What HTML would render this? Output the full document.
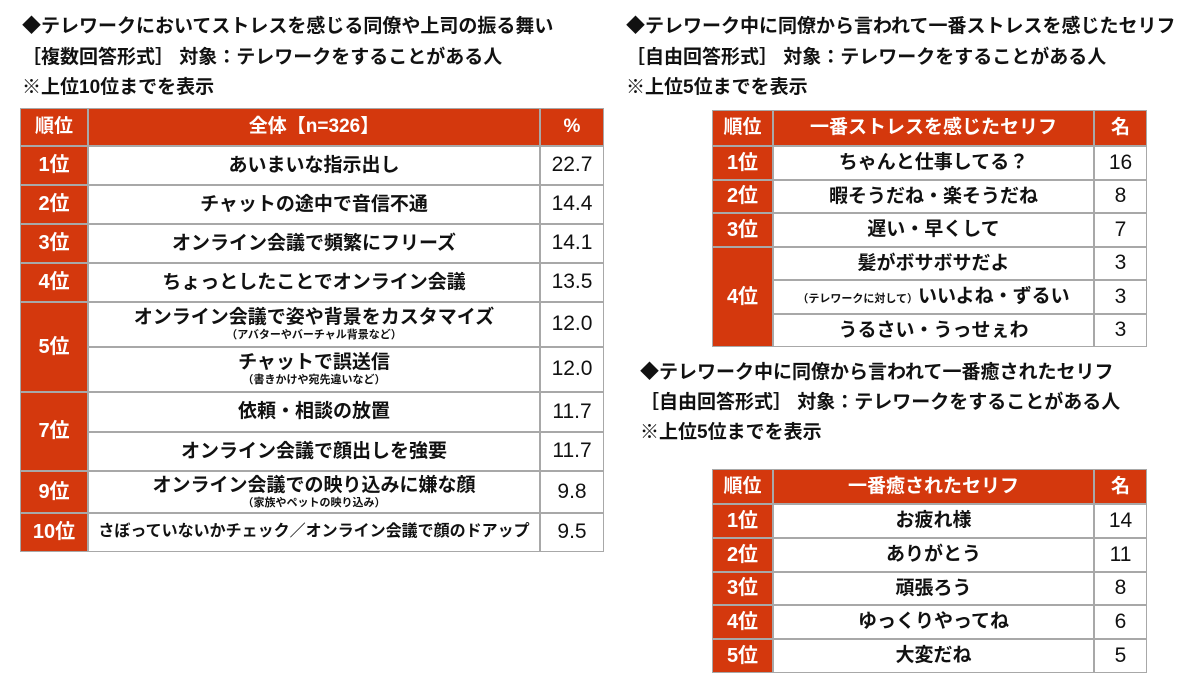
<!DOCTYPE html>
<html><head><meta charset="utf-8">
<style>
body{margin:0;width:1200px;height:695px;background:#fff;position:relative;overflow:hidden;font-family:"Liberation Sans","Noto Sans CJK JP",sans-serif;font-weight:bold;color:#111}
.t{position:absolute;font-size:19px;white-space:nowrap;line-height:22px}
.c{position:absolute;box-sizing:border-box;display:flex;flex-direction:column;align-items:center;justify-content:center;white-space:nowrap;border:1px solid #a8a8a8;line-height:1.15}
.h{background:#d4380d;color:#fff;font-size:19px}
.r{background:#d4380d;color:#fff;font-size:20px}
.b{background:#fff;font-size:19px}
.v{background:#fff;font-size:21px;font-weight:normal;font-family:"Liberation Sans",sans-serif}
.s{font-size:11px}
</style></head><body>
<div class="t" style="left:22px;top:16px">◆テレワークにおいてストレスを感じる同僚や上司の振る舞い</div>
<div class="t" style="left:22px;top:47px">［複数回答形式］ 対象：テレワークをすることがある人</div>
<div class="t" style="left:22px;top:77px">※上位10位までを表示</div>
<div class="t" style="left:626px;top:16px">◆テレワーク中に同僚から言われて一番ストレスを感じたセリフ</div>
<div class="t" style="left:626px;top:47px">［自由回答形式］ 対象：テレワークをすることがある人</div>
<div class="t" style="left:626px;top:77px">※上位5位までを表示</div>
<div class="t" style="left:640px;top:362px">◆テレワーク中に同僚から言われて一番癒されたセリフ</div>
<div class="t" style="left:640px;top:392px">［自由回答形式］ 対象：テレワークをすることがある人</div>
<div class="t" style="left:640px;top:422px">※上位5位までを表示</div>
<div id="root"></div>
<script>
const leftRanks=[["1位",146,185],["2位",185,224],["3位",224,263],["4位",263,302],["5位",302,392],["7位",392,471],["9位",471,513],["10位",513,552]];
const leftItems=[["あいまいな指示出し","",22.7,146,185],["チャットの途中で音信不通","",14.4,185,224],["オンライン会議で頻繁にフリーズ","",14.1,224,263],["ちょっとしたことでオンライン会議","",13.5,263,302],["オンライン会議で姿や背景をカスタマイズ","（アバターやバーチャル背景など）",12.0,302,347],["チャットで誤送信","（書きかけや宛先違いなど）",12.0,347,392],["依頼・相談の放置","",11.7,392,432],["オンライン会議で顔出しを強要","",11.7,432,471],["オンライン会議での映り込みに嫌な顔","（家族やペットの映り込み）",9.8,471,513],["さぼっていないかチェック／オンライン会議で顔のドアップ","",9.5,513,552]];
const r1Ranks=[["1位",146,180],["2位",180,213],["3位",213,247],["4位",247,347]];
const r1Items=[["ちゃんと仕事してる？",16,146,180],["暇そうだね・楽そうだね",8,180,213],["遅い・早くして",7,213,247],["髪がボサボサだよ",3,247,280],["<span><span class='s'>（テレワークに対して）</span>いいよね・ずるい</span>",3,280,314],["うるさい・うっせぇわ",3,314,347]];
const r2Items=[["1位","お疲れ様",14,504,538],["2位","ありがとう",11,538,572],["3位","頑張ろう",8,572,605],["4位","ゆっくりやってね",6,605,639],["5位","大変だね",5,639,673]];
const root=document.getElementById('root');
function cell(x,y,w,h,cls,html,name){
 const d=document.createElement('div');
 d.className='c '+cls;
 d.style.cssText=`left:${x}px;top:${y}px;width:${w}px;height:${h}px`;
 d.innerHTML=html;
 
 
 root.appendChild(d);
 return d;
}
cell(20,108,68,38,'h','順位','left-header-rank');
cell(88,108,452,38,'h','全体【n=326】','left-header-item');
cell(540,108,64,38,'h','%','left-header-pct');
leftRanks.forEach(r=>cell(20,r[1],68,r[2]-r[1],'r',r[0],'left-rank-cell'));
leftItems.forEach(it=>{
 const d=cell(88,it[3],452,it[4]-it[3],'b',it[0]+(it[1]?`<span class="s">${it[1]}</span>`:''),'left-item-cell');
 if(it[0].length>22) d.style.fontSize='16px';
 cell(540,it[3],64,it[4]-it[3],'v',it[2].toFixed(1),'left-pct-cell');
});
cell(712,110,61,36,'h','順位','r1-header-rank');
cell(773,110,321,36,'h','一番ストレスを感じたセリフ','r1-header-item');
cell(1094,110,53,36,'h','名','r1-header-count');
r1Ranks.forEach(r=>cell(712,r[1],61,r[2]-r[1],'r',r[0],'r1-rank-cell'));
r1Items.forEach(it=>{
 cell(773,it[2],321,it[3]-it[2],'b',it[0],'r1-item-cell');
 cell(1094,it[2],53,it[3]-it[2],'v',String(it[1]),'r1-count-cell');
});
cell(712,469,61,35,'h','順位','r2-header-rank');
cell(773,469,321,35,'h','一番癒されたセリフ','r2-header-item');
cell(1094,469,53,35,'h','名','r2-header-count');
r2Items.forEach(it=>{
 cell(712,it[3],61,it[4]-it[3],'r',it[0],'r2-rank-cell');
 cell(773,it[3],321,it[4]-it[3],'b',it[1],'r2-item-cell');
 cell(1094,it[3],53,it[4]-it[3],'v',String(it[2]),'r2-count-cell');
});
</script>
</body></html>
